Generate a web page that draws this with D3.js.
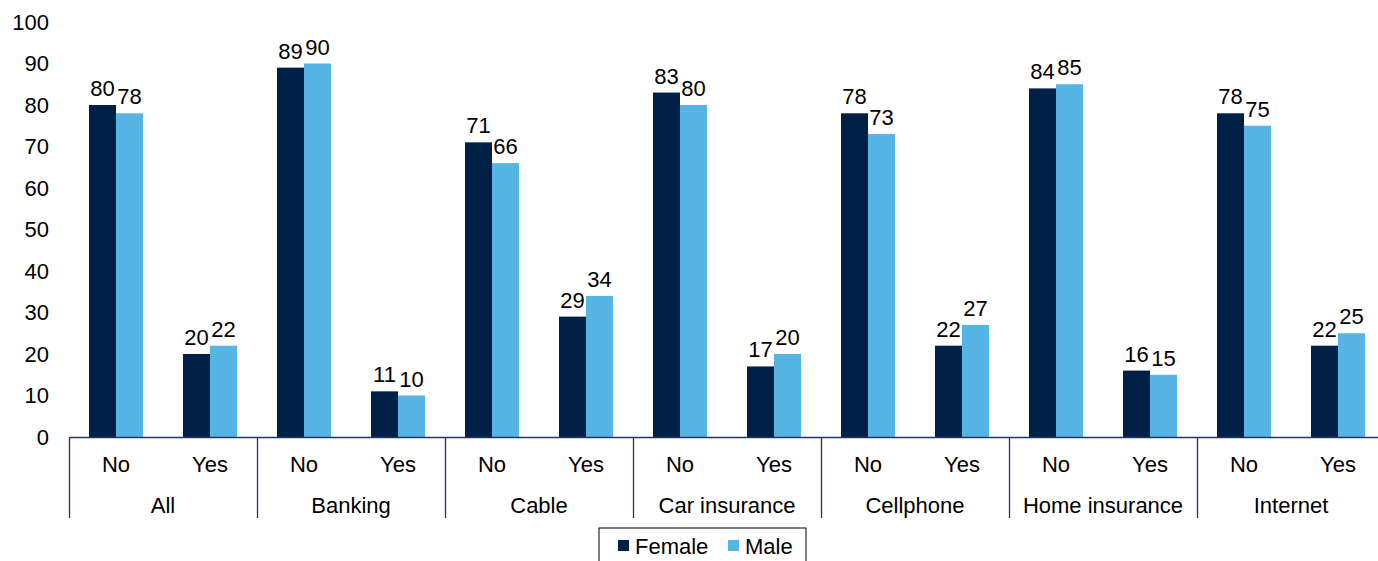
<!DOCTYPE html>
<html>
<head>
<meta charset="utf-8">
<script src="https://cdn.jsdelivr.net/npm/d3@7/dist/d3.min.js"></script>
<style>
  html, body { margin: 0; padding: 0; background: #fff; }
  svg { display: block; font-family: "Liberation Sans", Arial, sans-serif; }
</style>
</head>
<body>
<svg id="chart" width="1378" height="561"></svg>
<script>
// Groups and answers along the x axis
const groups = ["All", "Banking", "Cable", "Car insurance", "Cellphone", "Home insurance", "Internet"];
const answers = ["No", "Yes"];
const seriesNames = ["Female", "Male"];

// Percentages per group, ordered No, Yes
const female = [[80, 20], [89, 11], [71, 29], [83, 17], [78, 22], [84, 16], [78, 22]];
const male   = [[78, 22], [90, 10], [66, 34], [80, 20], [73, 27], [85, 15], [75, 25]];

const yTicks = [0, 10, 20, 30, 40, 50, 60, 70, 80, 90, 100];

const colors = { Female: "#002045", Male: "#56B5E5" };
const axisColor = "#1F3A5F";
const fontSize = 22;

const svg = d3.select("#chart");
const plotLeft = 69, plotTop = 22, plotBottom = 437;
const plotRight = plotLeft + 14 * 94;

const rows = [];
groups.forEach((g, gi) => {
  answers.forEach((a, ai) => {
    rows.push({ key: g + "|" + a, group: g, answer: a, Female: female[gi][ai], Male: male[gi][ai] });
  });
});

const x = d3.scaleBand().domain(rows.map(r => r.key)).range([plotLeft, plotRight]).paddingInner(0).paddingOuter(0);
const xs = d3.scaleBand().domain(seriesNames).range([0, x.bandwidth()]).paddingInner(0).paddingOuter(0.74);
const y = d3.scaleLinear().domain([0, 100]).range([plotBottom, plotTop]);

// y axis labels (no line, no ticks)
const yAxis = svg.append("g").attr("transform", `translate(${plotLeft},0)`)
  .call(d3.axisLeft(y).tickValues(yTicks).tickSize(0).tickPadding(20));
yAxis.select(".domain").remove();
yAxis.selectAll("text").attr("font-size", fontSize).attr("fill", "#000")
  .style("font-family", "'Liberation Sans', Arial, sans-serif");

// Bars
const rowG = svg.append("g").selectAll("g").data(rows).join("g")
  .attr("transform", d => `translate(${x(d.key)},0)`);

rowG.selectAll("rect").data(d => seriesNames.map(s => ({ s, v: d[s] }))).join("rect")
  .attr("x", d => xs(d.s))
  .attr("width", xs.bandwidth())
  .attr("y", d => y(d.v))
  .attr("height", d => y(0) - y(d.v))
  .attr("fill", d => colors[d.s]);

rowG.selectAll("text.val").data(d => seriesNames.map(s => ({ s, v: d[s] }))).join("text")
  .attr("class", "val")
  .attr("x", d => xs(d.s) + xs.bandwidth() / 2)
  .attr("y", d => y(d.v) - 9)
  .attr("text-anchor", "middle")
  .attr("font-size", fontSize)
  .attr("fill", "#000")
  .text(d => d.v);

// Category axis: baseline, separators, answer and group labels
const ax = svg.append("g");
ax.append("line").attr("x1", plotLeft).attr("x2", plotRight).attr("y1", plotBottom + 0.5).attr("y2", plotBottom + 0.5)
  .attr("stroke", axisColor).attr("stroke-width", 1.3);

groups.forEach((g, gi) => {
  const gx = x(g + "|No");
  ax.append("line").attr("x1", gx + 0.5).attr("x2", gx + 0.5).attr("y1", plotBottom).attr("y2", 518)
    .attr("stroke", axisColor).attr("stroke-width", 1.3);
  ax.append("text").attr("x", gx + x.bandwidth()).attr("y", 513)
    .attr("text-anchor", "middle").attr("font-size", fontSize).attr("fill", "#000").text(g);
});
ax.append("line").attr("x1", plotRight + 0.5).attr("x2", plotRight + 0.5).attr("y1", plotBottom).attr("y2", 518)
  .attr("stroke", axisColor).attr("stroke-width", 1.3);

rows.forEach(r => {
  ax.append("text").attr("x", x(r.key) + x.bandwidth() / 2).attr("y", 472)
    .attr("text-anchor", "middle").attr("font-size", fontSize).attr("fill", "#000").text(r.answer);
});

// Legend
const lg = svg.append("g").attr("transform", "translate(599,528)");
lg.append("rect").attr("x", 0).attr("y", 0).attr("width", 207).attr("height", 40)
  .attr("fill", "#fff").attr("stroke", "#000").attr("stroke-width", 1);
const legendX = { Female: 19, Male: 129 };
seriesNames.forEach(s => {
  lg.append("rect").attr("x", legendX[s]).attr("y", 12).attr("width", 11).attr("height", 11).attr("fill", colors[s]);
  lg.append("text").attr("x", legendX[s] + 17).attr("y", 26).attr("font-size", fontSize).attr("fill", "#000").text(s);
});
</script>
</body>
</html>
